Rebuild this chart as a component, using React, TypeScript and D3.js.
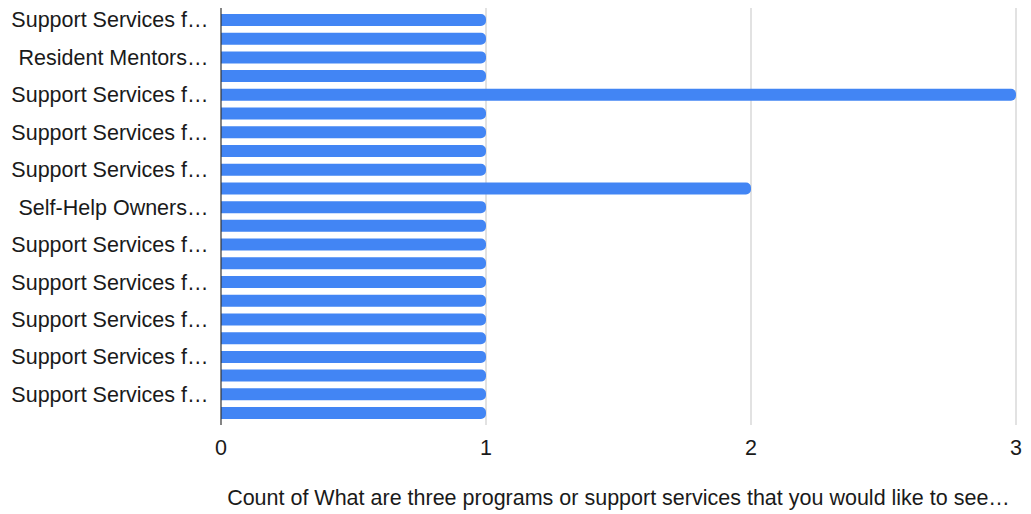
import React from "react";
import * as d3 from "d3";

const tickLabels: string[] = [
  "Support Services f…",
  "Resident Mentors…",
  "Support Services f…",
  "Support Services f…",
  "Support Services f…",
  "Self-Help Owners…",
  "Support Services f…",
  "Support Services f…",
  "Support Services f…",
  "Support Services f…",
  "Support Services f…",
];

const values: number[] = [1, 1, 1, 1, 3, 1, 1, 1, 1, 2, 1, 1, 1, 1, 1, 1, 1, 1, 1, 1, 1, 1];

const xTicks: number[] = [0, 1, 2, 3];

const axisTitle = "Count of What are three programs or support services that you would like to see…";

const W = 1031;
const H = 514;
const FONT = "'Liberation Sans', Arial, Helvetica, sans-serif";

export default function App() {
  const margin = { left: 221, right: 15, top: 10.6, bottom: 91.6 };
  const x = d3.scaleLinear().domain([0, 3]).range([margin.left, W - margin.right]);
  const idx = values.map((_, i) => i);
  const y = d3
    .scaleBand<number>()
    .domain(idx)
    .range([margin.top, H - margin.bottom])
    .paddingInner(0.36)
    .paddingOuter(0.18);
  const bw = y.bandwidth();
  const r = Math.min(5, bw / 2);

  const barPath = (v: number, i: number) => {
    const x0 = x(0);
    const x1 = x(v);
    const y0 = y(i)!;
    const y1 = y0 + bw;
    const p = d3.path();
    p.moveTo(x0, y0);
    p.lineTo(x1 - r, y0);
    p.arcTo(x1, y0, x1, y0 + r, r);
    p.lineTo(x1, y1 - r);
    p.arcTo(x1, y1, x1 - r, y1, r);
    p.lineTo(x0, y1);
    p.closePath();
    return p.toString();
  };

  const gridTop = 8;
  const gridBottom = 425;

  return (
    <svg width={W} height={H} style={{ position: "absolute", left: 0, top: 0, background: "#fff" }} fontFamily={FONT}>
      {xTicks.slice(1).map((t) => (
        <line key={t} x1={x(t)} x2={x(t)} y1={gridTop} y2={gridBottom} stroke="#d9d9d9" strokeWidth={1.5} />
      ))}
      {values.map((v, i) => (
        <path key={i} d={barPath(v, i)} fill="#4285f4" />
      ))}
      <line x1={x(0)} x2={x(0)} y1={gridTop} y2={gridBottom} stroke="#333" strokeWidth={1.2} />
      {tickLabels.map((l, k) => (
        <text
          key={k}
          x={208.5}
          y={y(k * 2)! + bw / 2}
          dy="0.35em"
          textAnchor="end"
          fontSize={21.5}
          fill="#1a1a1a"
        >
          {l}
        </text>
      ))}
      {xTicks.map((t) => (
        <text key={t} x={x(t)} y={447} dy="0.35em" textAnchor="middle" fontSize={21.5} fill="#1a1a1a">
          {t}
        </text>
      ))}
      <text x={(x(0) + x(3)) / 2} y={497} dy="0.35em" textAnchor="middle" fontSize={21.5} fill="#1a1a1a">
        {axisTitle}
      </text>
    </svg>
  );
}
